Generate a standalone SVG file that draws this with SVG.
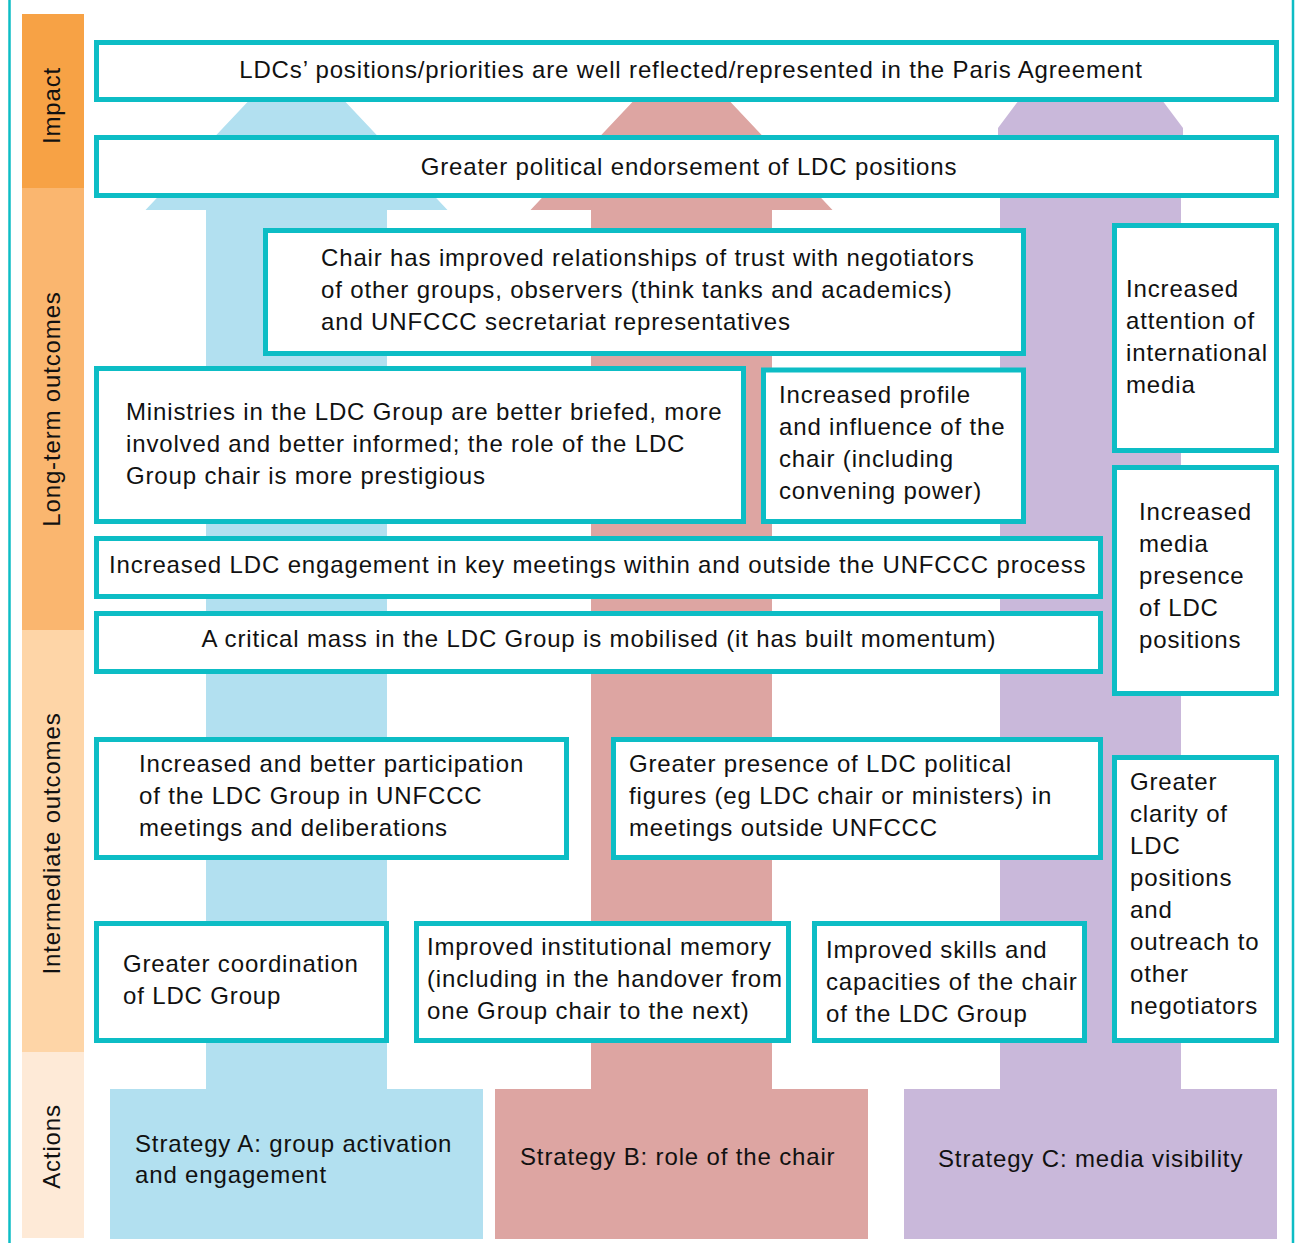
<svg xmlns="http://www.w3.org/2000/svg" width="1295" height="1243" viewBox="0 0 1295 1243">
<style>
.box{fill:#fff;stroke:#0DBDC5;stroke-width:5}
text{font-family:"Liberation Sans",Arial,sans-serif;font-size:24px;letter-spacing:0.85px;fill:#111}
.c{text-anchor:middle}
.band{font-size:24px}
</style>
<rect width="1295" height="1243" fill="#fff"/>
<g id="frame">
<line x1="9.5" y1="0" x2="9.5" y2="1243" stroke="#0DBDC5" stroke-width="2.5"/>
<line x1="1293" y1="0" x2="1293" y2="1243" stroke="#0DBDC5" stroke-width="2.5"/>
</g>
<g id="bands">
<rect x="22" y="14" width="62" height="174" fill="#F7A245"/>
<rect x="22" y="188" width="62" height="442" fill="#FAB66F"/>
<rect x="22" y="630" width="62" height="422" fill="#FED5A7"/>
<rect x="22" y="1052" width="62" height="186" fill="#FEEAD7"/>
<text class="band c" transform="translate(60,105.5) rotate(-90)">Impact</text>
<text class="band c" transform="translate(60,409) rotate(-90)">Long-term outcomes</text>
<text class="band c" transform="translate(60,843.5) rotate(-90)">Intermediate outcomes</text>
<text class="band c" transform="translate(60,1146.5) rotate(-90)">Actions</text>
</g>
<g id="connectors">
<polygon fill="#B2E0F0" points="296.5,50 447.5,210 387,210 387,1090 206,1090 206,210 145.5,210"/>
<polygon fill="#DDA5A2" points="681.5,50 832.5,210 772,210 772,1090 591,1090 591,210 530.5,210"/>
<polygon fill="#C9B8DA" points="1019,100 1162,100 1183,128 1183,190 1181,190 1181,1090 1000,1090 1000,190 998,190 998,128"/>
</g>
<g id="strategyA"><rect x="110" y="1089" width="373" height="150" fill="#B2E0F0"/>
<text x="135" y="1152">Strategy A: group activation</text><text x="135" y="1183">and engagement</text></g>
<g id="strategyB"><rect x="495" y="1089" width="373" height="150" fill="#DDA5A2"/>
<text x="520" y="1165">Strategy B: role of the chair</text></g>
<g id="strategyC"><rect x="904" y="1089" width="373" height="150" fill="#C9B8DA"/>
<text x="938" y="1167">Strategy C: media visibility</text></g>

<g id="impact"><rect class="box" x="96.5" y="42.5" width="1180" height="57"/>
<text class="c" x="691" y="78">LDCs’ positions/priorities are well reflected/represented in the Paris Agreement</text></g>
<g id="endorsement"><rect class="box" x="96.5" y="137.5" width="1180" height="58"/>
<text class="c" x="689" y="175">Greater political endorsement of LDC positions</text></g>
<g id="trust"><rect class="box" x="265.5" y="230.5" width="758" height="123"/>
<text x="321" y="266">Chair has improved relationships of trust with negotiators</text>
<text x="321" y="298">of other groups, observers (think tanks and academics)</text>
<text x="321" y="330">and UNFCCC secretariat representatives</text></g>
<g id="ministries"><rect class="box" x="96.5" y="368.5" width="647" height="153"/>
<text x="126" y="420">Ministries in the LDC Group are better briefed, more</text>
<text x="126" y="452">involved and better informed; the role of the LDC</text>
<text x="126" y="484">Group chair is more prestigious</text></g>
<g id="profile"><rect class="box" x="763.5" y="370" width="260" height="151.5"/>
<text x="779" y="403">Increased profile</text>
<text x="779" y="435">and influence of the</text>
<text x="779" y="467">chair (including</text>
<text x="779" y="499">convening power)</text></g>
<g id="intlmedia"><rect class="box" x="1114.5" y="225.5" width="162" height="225"/>
<text x="1126" y="297">Increased</text>
<text x="1126" y="329">attention of</text>
<text x="1126" y="361">international</text>
<text x="1126" y="393">media</text></g>
<g id="engagement"><rect class="box" x="96.5" y="538.5" width="1004" height="58"/>
<text x="109" y="573">Increased LDC engagement in key meetings within and outside the UNFCCC process</text></g>
<g id="criticalmass"><rect class="box" x="96.5" y="613.5" width="1004" height="58"/>
<text class="c" x="599" y="647">A critical mass in the LDC Group is mobilised (it has built momentum)</text></g>
<g id="mediapresence"><rect class="box" x="1114.5" y="467.5" width="162" height="226"/>
<text x="1139" y="520">Increased</text>
<text x="1139" y="552">media</text>
<text x="1139" y="584">presence</text>
<text x="1139" y="616">of LDC</text>
<text x="1139" y="648">positions</text></g>
<g id="participation"><rect class="box" x="96.5" y="739.5" width="470" height="118"/>
<text x="139" y="772">Increased and better participation</text>
<text x="139" y="804">of the LDC Group in UNFCCC</text>
<text x="139" y="836">meetings and deliberations</text></g>
<g id="politicalfigures"><rect class="box" x="613.5" y="739.5" width="487" height="118"/>
<text x="629" y="772">Greater presence of LDC political</text>
<text x="629" y="804">figures (eg LDC chair or ministers) in</text>
<text x="629" y="836">meetings outside UNFCCC</text></g>
<g id="clarity"><rect class="box" x="1114.5" y="757.5" width="162" height="283"/>
<text x="1130" y="790">Greater</text>
<text x="1130" y="822">clarity of</text>
<text x="1130" y="854">LDC</text>
<text x="1130" y="886">positions</text>
<text x="1130" y="918">and</text>
<text x="1130" y="950">outreach to</text>
<text x="1130" y="982">other</text>
<text x="1130" y="1014">negotiators</text></g>
<g id="coordination"><rect class="box" x="96.5" y="923.5" width="290" height="117"/>
<text x="123" y="972">Greater coordination</text>
<text x="123" y="1004">of LDC Group</text></g>
<g id="memory"><rect class="box" x="416.5" y="923.5" width="372" height="117"/>
<text x="427" y="955">Improved institutional memory</text>
<text x="427" y="987">(including in the handover from</text>
<text x="427" y="1019">one Group chair to the next)</text></g>
<g id="skills"><rect class="box" x="814.5" y="923.5" width="270" height="117"/>
<text x="826" y="958">Improved skills and</text>
<text x="826" y="990">capacities of the chair</text>
<text x="826" y="1022">of the LDC Group</text></g>
</svg>
